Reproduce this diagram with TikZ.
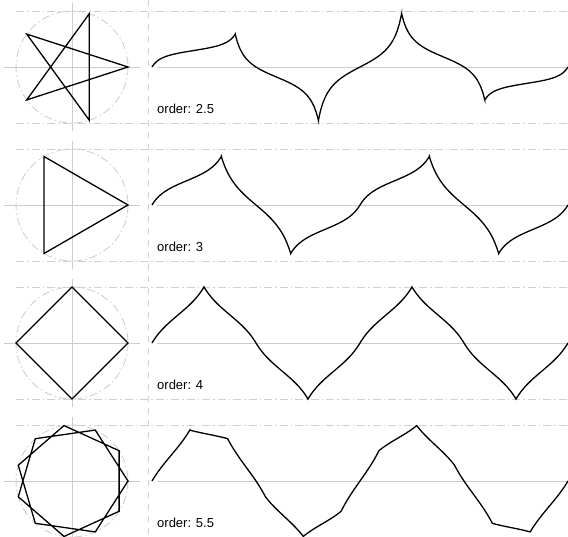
\documentclass[tikz,border=0pt]{standalone}
\usepackage{fontspec}
\setmainfont{Liberation Sans}
\definecolor{axisgray}{RGB}{204,204,204}
\definecolor{guidegray}{RGB}{208,208,208}
\begin{document}
\begin{tikzpicture}[x=1pt,y=-1pt,
  poly/.style={line width=1.3pt, line join=miter},
  wave/.style={line width=1.3pt, line join=miter},
  axisline/.style={draw=axisgray, line width=0.9pt},
  guide/.style={draw=guidegray, line width=0.9pt, dash pattern=on 8pt off 3pt on 1.5pt off 3pt},
  sepline/.style={draw=guidegray, line width=1pt, dash pattern=on 6pt off 6pt},
  lab/.style={anchor=base west, inner sep=0pt, font=\fontsize{13}{15}\selectfont}]
\useasboundingbox (0,0) rectangle (568,536);
\draw[sepline] (148,0) -- (148,536);
\foreach \n/\cy/\lbl [count=\i] in {2.5/67/2.5, 3/205/3, 4/343/4, 5.5/481/5.5} {
  \pgfmathsetmacro\stp{360/\n}
  \pgfmathsetmacro\a{180/\n}
  \pgfmathsetmacro\c{cos(\a)}
  \pgfmathtruncatemacro\m{720/\stp + 0.5}
  \pgfmathtruncatemacro\mm{\m-1}
  % guides
  \draw[guide] (72,\cy) circle[radius=56];
  \draw[guide] (16,\cy-56) -- (568,\cy-56);
  \draw[guide] (16,\cy+56) -- (568,\cy+56);
  \draw[axisline] (4,\cy) -- (140,\cy);
  \draw[axisline] (157,\cy) -- (568,\cy);
  \draw[axisline] (72,\cy-64) -- (72,\cy+64);
  % polygon
  \draw[poly] (128,\cy) \foreach \k in {1,...,\m} { -- ({72+56*cos(\k*\stp)},{\cy-56*sin(\k*\stp)}) } -- cycle;
  % wave
  \draw[wave] (152,\cy) \foreach \k [evaluate=\k as \lo using \k*\stp, evaluate=\k as \hi using (\k+1)*\stp] in {0,...,\mm} {
     -- plot[domain=\lo:\hi, samples=40, variable=\t] ({152+\t*0.577778},{\cy-56*\c*sin(\t)/cos(\t-\lo-\a)}) };
  \node[lab] (lbl\i) at (157,\cy+46.5) {order: \lbl};
}
\end{tikzpicture}
\end{document}
